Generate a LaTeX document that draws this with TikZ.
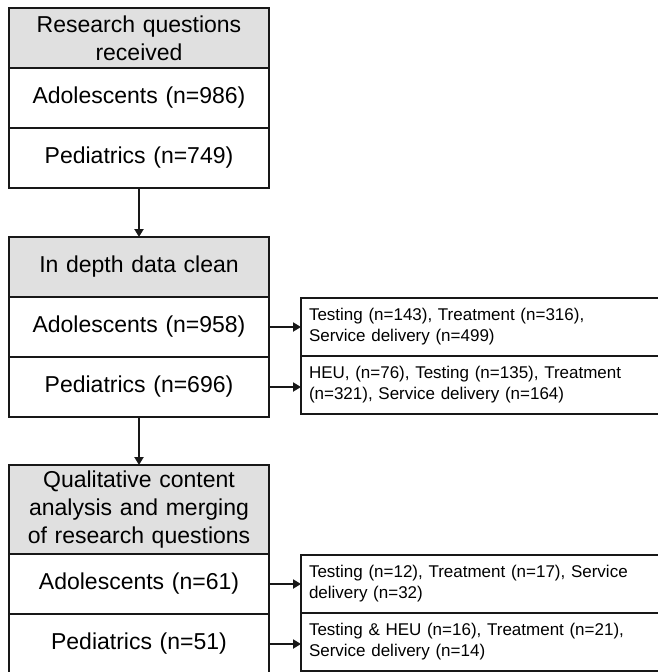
\documentclass[tikz,border=0pt]{standalone}
\usepackage{fontspec}
\setmainfont{Liberation Sans}
\usetikzlibrary{arrows.meta,positioning}
\definecolor{fcHead}{RGB}{224,224,224}
\definecolor{fcInk}{RGB}{24,24,24}
\tikzset{
  stage/.style={draw=fcInk, line width=1.8pt, fill=fcHead, minimum width=260pt,
    text width=250pt, align=center, inner sep=0pt, outer sep=0pt,
    font=\fontsize{23}{28}\selectfont},
  grp/.style={stage, fill=white, minimum height=60pt},
  note/.style={draw=fcInk, line width=1.8pt, text width=343pt, inner xsep=8pt,
    inner ysep=0pt, minimum height=58pt, align=left, outer sep=0pt,
    font=\fontsize{17}{21}\selectfont},
  link/.style={draw=fcInk, line width=2.6pt, -{Triangle[length=8pt,width=9pt]}}
}
\begin{document}
\begin{tikzpicture}[x=1pt,y=-1pt]
  \useasboundingbox (0,0) rectangle (657,672);
  % received
  \node[stage, minimum height=60pt] (recv) at (139,38) {Research questions\\received};
  \node[grp, below=0pt of recv] (recvA) {Adolescents (n=986)};
  \node[grp, below=0pt of recvA] (recvP) {Pediatrics (n=749)};
  % data clean
  \node[stage, minimum height=60pt] (clean) at (139,267) {In depth data clean};
  \node[grp, below=0pt of clean] (cleanA) {Adolescents (n=958)};
  \node[grp, below=0pt of cleanA] (cleanP) {Pediatrics (n=696)};
  \node[note, right=32pt of cleanA] (cleanAn) {Testing (n=143), Treatment (n=316),\\Service delivery (n=499)};
  \node[note, below=0pt of cleanAn] (cleanPn) {HEU, (n=76), Testing (n=135), Treatment\\(n=321), Service delivery (n=164)};
  % merging
  \node[stage, minimum height=89pt] (qual) at (139,509.5) {Qualitative content\\analysis and merging\\of research questions};
  \node[grp, below=0pt of qual] (qualA) {Adolescents (n=61)};
  \node[grp, below=0pt of qualA] (qualP) {Pediatrics (n=51)};
  \node[note, right=32pt of qualA] (qualAn) {Testing (n=12), Treatment (n=17), Service\\delivery (n=32)};
  \node[note, below=0pt of qualAn] (qualPn) {Testing \& HEU (n=16), Treatment (n=21),\\Service delivery (n=14)};
  \draw[link] (recvP) -- (clean);
  \draw[link] (cleanP) -- (qual);
  \draw[link] (cleanA) -- (cleanAn);
  \draw[link] (cleanP.east) -- (cleanP.east -| cleanPn.west);
  \draw[link] (qualA) -- (qualAn);
  \draw[link] (qualP.east) -- (qualP.east -| qualPn.west);
\end{tikzpicture}
\end{document}
